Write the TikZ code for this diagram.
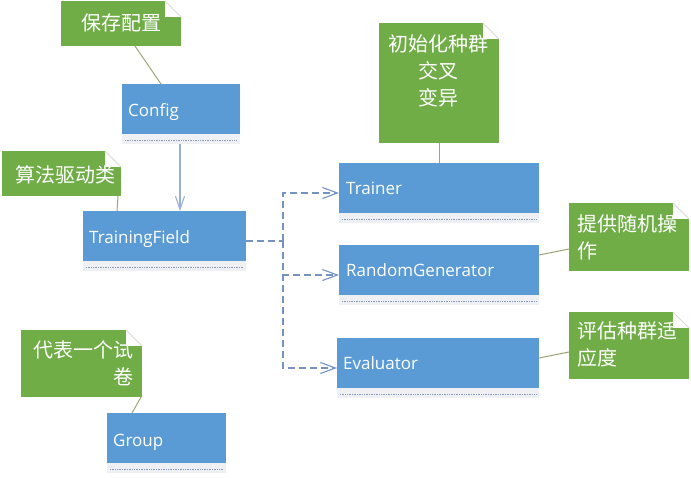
\documentclass[tikz,border=0pt]{standalone}
\usepackage{fontspec}
\setmainfont{Open Sans}
\newfontfamily\cjk{Noto Sans CJK SC}
\usetikzlibrary{arrows.meta}
\definecolor{boxblue}{HTML}{5B9BD5}
\definecolor{notegreen}{HTML}{70AD47}
\definecolor{bandgray}{HTML}{EEF0F3}
\definecolor{dotline}{HTML}{8A9BB8}
\definecolor{dashblue}{HTML}{7593C0}
\definecolor{arrowblue}{HTML}{96B0D6}
\definecolor{notelink}{HTML}{9CA678}
\definecolor{foldline}{HTML}{D8DCD0}
\tikzset{
  classbox/.style={minimum width=#1, minimum height=60pt, inner sep=0pt, outer sep=0pt,
    path picture={
      \fill[bandgray] (path picture bounding box.north west) rectangle (path picture bounding box.south east);
      \fill[boxblue] (path picture bounding box.north west) rectangle ([yshift=10pt]path picture bounding box.south east);
      \draw[dotline, densely dotted, line width=0.7pt] ([xshift=3pt,yshift=4pt]path picture bounding box.south west) -- ([xshift=-3pt,yshift=4pt]path picture bounding box.south east);
    }},
  notebox/.style 2 args={minimum width=#1, minimum height=#2, inner sep=0pt, outer sep=0pt,
    path picture={
      \fill[notegreen] (path picture bounding box.north west) rectangle (path picture bounding box.south east);
      \fill[white] ([xshift=-16pt]path picture bounding box.north east) rectangle ([yshift=-16pt]path picture bounding box.north east);
      \draw[foldline, line width=0.8pt] ([xshift=-16pt]path picture bounding box.north east) -- ([yshift=-16pt]path picture bounding box.north east);
    }},
  lbl/.style={text=white, font=\fontsize{17}{20}\selectfont, anchor=base west, inner sep=0pt},
  ntext/.style={text=white, font=\cjk\fontsize{20}{27}\selectfont, inner sep=0pt},
  dashlink/.style={dashblue, line width=1.1pt, dash pattern=on 7pt off 4pt},
  notelinkline/.style={notelink, line width=1pt},
  barb/.style={-{Straight Barb[length=15pt,width=11pt,line width=1.1pt]}}
}
\begin{document}
\begin{tikzpicture}[x=1pt, y=-1pt]
\useasboundingbox (0,0) rectangle (691,477);
% class boxes
\node[classbox=118pt] (config) at (181,114) {};
\node[classbox=163pt] (tf) at (164.5,241) {};
\node[classbox=200pt] (trainer) at (439,193) {};
\node[classbox=200pt] (rg) at (439,275) {};
\node[classbox=202pt] (eval) at (438,368) {};
\node[classbox=119pt] (group) at (166.5,443) {};
\node[lbl] (configl) at (128,116) {Config};
\node[lbl] (tfl) at (89,243) {TrainingField};
\node[lbl] (trainerl) at (346,194) {Trainer};
\node[lbl] (rgl) at (346,276) {RandomGenerator};
\node[lbl] (evall) at (343,369) {Evaluator};
\node[lbl] (groupl) at (113,446) {Group};
% notes
\node[notebox={120pt}{45pt}] (n1) at (121,23.5) {};
\node[notebox={119pt}{45pt}] (n2) at (61.5,173.5) {};
\node[notebox={120pt}{120pt}] (n3) at (439,83) {};
\node[notebox={120pt}{68pt}] (n4) at (629,237) {};
\node[notebox={120pt}{67pt}] (n5) at (629,345.5) {};
\node[notebox={121pt}{67pt}] (n6) at (81.5,363.5) {};
\node[ntext] (t1) at (121.5,23) {保存配置};
\node[ntext] (t2) at (66,175) {算法驱动类};
\node[ntext, align=center] (t3) at (438,70.5) {初始化种群\\交叉\\变异};
\node[ntext, align=left, anchor=west] (t4) at (577,237) {提供随机操\\作};
\node[ntext, align=left, anchor=west] (t5) at (577,344.5) {评估种群适\\应度};
\node[ntext, align=right, anchor=east] (t6) at (134,363) {代表一个试\\卷};
% note links
\coordinate (c1) at (135,46);
\coordinate (c2) at (118,196);
\coordinate (c6) at (141,397);
\draw[notelinkline] (c1) -- (161,84);
\draw[notelinkline] (c2) -- (tf.north -| 117,0);
\draw[notelinkline] (n3.south) -- (n3.south |- trainer.north);
\draw[notelinkline] ([yshift=-12pt]n4.west) -- ([yshift=20pt]rg.east);
\draw[notelinkline] ([yshift=-6.5pt]n5.west) -- ([yshift=10pt]eval.east);
\draw[notelinkline] (c6) -- (group.north -| 132,0);
% arrows
\draw[arrowblue, line width=1.2pt, -{Straight Barb[length=13pt,width=9pt,line width=1.1pt]}] (config.south -| 180,0) -- (tf.north -| 180,0);
\coordinate (j) at (283,241);
\draw[dashlink] (tf.east) -- (j);
\draw[dashlink, barb] (j) |- (trainer.west);
\draw[dashlink, barb] (j) |- (rg.west);
\draw[dashlink, barb] (j) |- (eval.west);
\end{tikzpicture}
\end{document}
